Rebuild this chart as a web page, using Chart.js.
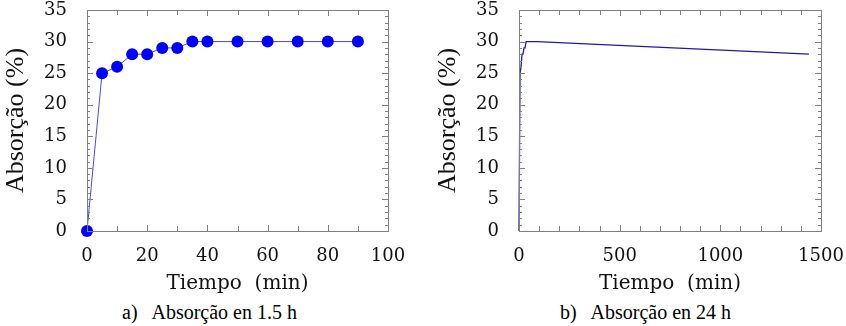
<!DOCTYPE html>
<html>
<head>
<meta charset="utf-8">
<script src="https://cdn.jsdelivr.net/npm/chart.js@4/dist/chart.umd.min.js"></script>
<style>
  body { margin: 0; background: #fff; }
  #wrap { position: relative; width: 846px; height: 326px; overflow: hidden; }
  .box { position: absolute; top: 0; width: 423px; height: 300px; }
  .cap { position: absolute; top: 301px; font-family: "Liberation Serif", serif; font-size: 20px; color: #000; white-space: pre; }
  .warm { position: absolute; left: -2000px; top: 0; }
</style>
</head>
<body>
<div id="wrap">
  <div class="box" style="left:0"><canvas id="shortChart"></canvas></div>
  <div class="box" style="left:423px"><canvas id="longChart"></canvas></div>
  <div class="cap" style="left:122px">a)   Absorção en 1.5 h</div>
  <div class="cap" style="left:560px">b)   Absorção en 24 h</div>
</div>
<span class="warm" style="font-family:'DejaVu Serif'">Tiempo (min) 0123456789</span>
<span class="warm" style="font-family:'Liberation Serif'">Absorção (%)</span>
<script>
// Data
const tiempoCorto = [0, 5, 10, 15, 20, 25, 30, 35, 40, 50, 60, 70, 80, 90];
const absorcionCorto = [0, 25, 26, 28, 28, 29, 29, 30, 30, 30, 30, 30, 30, 30];
const tiempoLargo = [0, 5, 10, 15, 20, 25, 30, 35, 40, 50, 60, 70, 80, 90, 1440];
const absorcionLargo = [0, 25, 26, 28, 28, 29, 29, 30, 30, 30, 30, 30, 30, 30, 28];

const yLabel = 'Absorção (%)';
const xLabel = 'Tiempo  (min)';

const serifTitle = '"Liberation Serif", "Times New Roman", serif';
const serifTicks = '"DejaVu Serif", serif';

// frame box with inward ticks on all four sides
const frameTicks = {
  id: 'frameTicks',
  afterDatasetsDraw(chart, args, opts) {
    const { ctx, chartArea: a, scales: { x, y } } = chart;
    ctx.save();
    ctx.strokeStyle = '#808080';
    ctx.lineWidth = 1;
    ctx.strokeRect(Math.round(a.left) + 0.5, Math.round(a.top) + 0.5,
      Math.round(a.right - a.left), Math.round(a.bottom - a.top));
    ctx.beginPath();
    x.ticks.forEach(t => {
      const px = Math.round(x.getPixelForValue(t.value)) + 0.5;
      const len = t.value % opts.xMajor === 0 ? 6 : 5;
      ctx.moveTo(px, a.bottom); ctx.lineTo(px, a.bottom - len);
      ctx.moveTo(px, a.top); ctx.lineTo(px, a.top + len);
    });
    y.ticks.forEach(t => {
      const py = Math.round(y.getPixelForValue(t.value)) + 0.5;
      const len = t.value % 5 === 0 ? 6 : 3;
      ctx.moveTo(a.left, py); ctx.lineTo(a.left + len, py);
      ctx.moveTo(a.right, py); ctx.lineTo(a.right - len, py);
    });
    ctx.stroke();
    ctx.restore();
  }
};

function makeChart(id, xs, ys, opt) {
  const ctx = document.getElementById(id).getContext('2d');
  return new Chart(ctx, {
    type: 'line',
    data: {
      datasets: [{
        data: xs.map((v, i) => ({ x: v, y: ys[i] })),
        borderColor: opt.lineColor,
        borderWidth: opt.lineWidth,
        pointRadius: opt.pointRadius,
        pointBackgroundColor: '#0000ff',
        pointBorderWidth: 0,
        tension: 0,
        clip: false
      }]
    },
    plugins: [frameTicks],
    options: {
      responsive: false,
      animation: false,
      events: [],
      layout: { padding: { top: 10, right: opt.padRight, left: opt.padLeft, bottom: 0 } },
      plugins: {
        legend: { display: false },
        tooltip: { enabled: false },
        frameTicks: { xMajor: opt.xLabelStep }
      },
      scales: {
        x: {
          type: 'linear',
          min: 0,
          max: opt.xMax,
          grid: { display: false, drawTicks: false },
          border: { display: false },
          ticks: {
            stepSize: opt.xStep,
            autoSkip: false,
            maxRotation: 0,
            padding: 15,
            color: '#111',
            font: { family: serifTicks, size: 18 },
            callback: v => v % opt.xLabelStep === 0 ? v : ''
          },
          title: {
            display: true,
            text: xLabel,
            color: '#111',
            padding: { top: 2, bottom: 4 },
            font: { family: serifTicks, size: 20 }
          },
          afterFit: s => { s.height = 69; s.paddingLeft = 0; s.paddingRight = 0; }
        },
        y: {
          min: 0,
          max: 35,
          grid: { display: false, drawTicks: false },
          border: { display: false },
          ticks: {
            stepSize: 1,
            autoSkip: false,
            padding: 20,
            color: '#111',
            font: { family: serifTicks, size: 18 },
            callback: v => v % 5 === 0 ? v : ''
          },
          title: {
            display: true,
            text: yLabel,
            color: '#111',
            padding: { top: 1, bottom: 0 },
            font: { family: serifTitle, size: 26 }
          },
          afterFit: s => { s.width = 87; s.paddingTop = 0; s.paddingBottom = 0; }
        }
      }
    }
  });
}

document.getElementById('shortChart').width = 423;
document.getElementById('shortChart').height = 300;
document.getElementById('longChart').width = 423;
document.getElementById('longChart').height = 300;

// force a layout pass so the serif fonts get picked up before drawing
void document.body.offsetWidth;

const charts = [
  makeChart('shortChart', tiempoCorto, absorcionCorto, {
    xMax: 100, xStep: 10, xLabelStep: 20,
    lineColor: '#4a4ad6', lineWidth: 1, pointRadius: 6,
    padLeft: 0, padRight: 35
  }),
  makeChart('longChart', tiempoLargo, absorcionLargo, {
    xMax: 1500, xStep: 100, xLabelStep: 500,
    lineColor: '#1c1ca6', lineWidth: 1.3, pointRadius: 0,
    padLeft: 9, padRight: 25
  })
];

function redraw() { charts.forEach(c => c.update('none')); }
window.addEventListener('load', redraw);
document.fonts.ready.then(redraw);
setTimeout(redraw, 150);
</script>
</body>
</html>
